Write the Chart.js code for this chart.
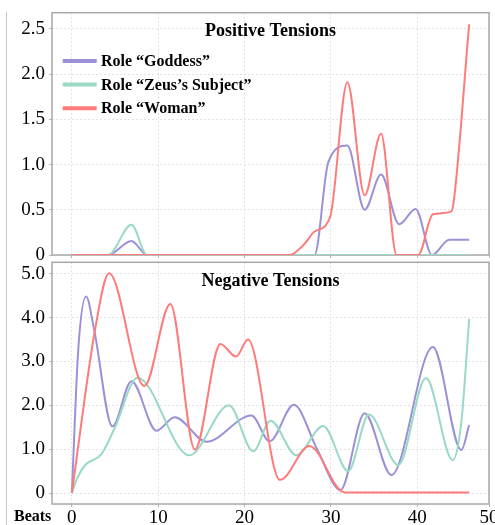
<!DOCTYPE html>
<html>
<head>
<meta charset="utf-8">
<script src="https://cdn.jsdelivr.net/npm/chart.js@4.4.1/dist/chart.umd.min.js"></script>
<style>
  html, body { margin: 0; padding: 0; background: #fff; }
  #wrap { position: relative; width: 495px; height: 525px; overflow: hidden; }
  #wrap canvas { position: absolute; left: 0; }
  #posChart { top: 0; }
  #negChart { top: 258px; }
  #frame { position: absolute; left: 6px; top: 12px; height: 513px; border-left: 1px solid #c8c8c8; }
</style>
</head>
<body>
<div id="wrap">
  <div id="frame"></div>
  <canvas id="posChart" width="495" height="262"></canvas>
  <canvas id="negChart" width="495" height="267"></canvas>
</div>
<script>
// beats / tension values
const beatTicks = [0, 10, 20, 30, 40, 50];
const posTicks = [0, 0.5, 1, 1.5, 2, 2.5];
const negTicks = [0, 1, 2, 3, 4, 5];

const roleLabels = ["Role “Goddess”", "Role “Zeus’s Subject”", "Role “Woman”"];
const roleColors = ["#9b91d9", "#9ad9c6", "#ff7b7b"];

// positive tensions
const posGoddessBeats = [0, 4.2, 6.9, 8.7, 28.1, 29.7, 31.9, 33.9, 35.8, 37.9, 39.8, 41.7, 43.7, 46];
const posGoddessVals  = [0, 0, 0.155, 0, 0, 1.03, 1.21, 0.50, 0.89, 0.34, 0.51, 0, 0.17, 0.17];
const posZeusBeats = [0, 4.2, 6.9, 8.7, 46];
const posZeusVals  = [0, 0, 0.335, 0, 0];
const posWomanBeats = [0, 25.2, 27.0, 28.1, 29.9, 31.9, 33.9, 35.8, 37.6, 40.1, 41.8, 43.9, 44.2, 46];
const posWomanVals  = [0, 0, 0.13, 0.26, 0.42, 1.91, 0.66, 1.34, 0, 0, 0.45, 0.48, 0.58, 2.55];

// negative tensions
const negGoddessBeats = [0, 0.75, 1.65, 2.6, 4.7, 6.9, 9.8, 11.9, 15.6, 20.8, 22.9, 25.7, 28.4, 31.1, 33.9, 37.0, 41.8, 45.1, 46];
const negGoddessVals  = [0, 3.3, 4.48, 3.7, 1.52, 2.55, 1.42, 1.73, 1.17, 1.77, 1.18, 2.01, 1.0, 0.07, 1.82, 0.41, 3.33, 0.98, 1.55];
const negZeusBeats = [0, 0.6, 1.6, 3.4, 5.0, 7.6, 13.6, 18.2, 21.0, 23.0, 26.0, 29.1, 32.0, 34.4, 37.8, 41.0, 44.1, 45.1, 46];
const negZeusVals  = [0, 0.33, 0.65, 0.88, 1.5, 2.63, 0.86, 2.0, 0.95, 1.65, 0.86, 1.53, 0.5, 1.79, 0.64, 2.62, 0.75, 1.62, 3.97];
const negWomanBeats = [0, 2.7, 4.3, 8.4, 11.4, 14.25, 17.2, 19.0, 20.4, 24.1, 27.5, 31.5, 33, 46];
const negWomanVals  = [0, 3.74, 5.01, 2.44, 4.31, 0.99, 3.4, 3.11, 3.5, 0.30, 1.07, 0.02, 0.01, 0.01];

const serif = '"Liberation Serif", "Times New Roman", serif';
Chart.defaults.font.family = serif;
Chart.defaults.color = "#000";

function points(xs, ys){
  return xs.map((x, i) => ({x: x, y: ys[i]}));
}

function series(sets){
  return sets.map((s, i) => ({
    label: roleLabels[i],
    data: points(s[0], s[1]),
    borderColor: roleColors[i],
    borderWidth: 2,
    pointRadius: 0,
    fill: false,
    cubicInterpolationMode: "monotone",
    order: 3 - i
  }));
}

// title, legend and frame drawn inside the plot box
const panelText = {
  id: "panelText",
  beforeDatasetsDraw(chart){
    const {ctx, chartArea: a} = chart;
    ctx.save();
    ctx.strokeStyle = "#a8a8a8";
    ctx.lineWidth = 1.5;
    ctx.strokeRect(a.left, a.top, a.right - a.left, a.bottom - a.top);
    ctx.restore();
  },
  afterDatasetsDraw(chart, args, opts){
    const {ctx, chartArea: a} = chart;
    ctx.save();
    ctx.fillStyle = "#000";
    ctx.textBaseline = "alphabetic";
    ctx.font = "bold 18px " + serif;
    ctx.textAlign = "center";
    ctx.fillText(opts.title, (a.left + a.right) / 2, a.top + 23.5);
    ctx.textAlign = "left";
    ctx.font = "bold 16px " + serif;
    if(opts.legend){
      chart.data.datasets.forEach((ds, i) => {
        const y = a.top + 53.3 + i * 23.6;
        ctx.strokeStyle = ds.borderColor;
        ctx.lineWidth = 4;
        ctx.beginPath();
        ctx.moveTo(a.left + 10.7, y - 5);
        ctx.lineTo(a.left + 44.7, y - 5);
        ctx.stroke();
        ctx.fillText(ds.label, a.left + 49, y);
      });
    }
    if(opts.xTitle){
      ctx.fillText(opts.xTitle, 14, a.bottom + 17);
    }
    ctx.restore();
  }
};

function makePanel(id, sets, yMin, yMax, yTicks, opts){
  const gridCfg = {color: "#e2e2e2", tickColor: "#b8b8b8", tickLength: 3, lineWidth: 1};
  const tickFont = {family: serif, size: 19, weight: "normal"};
  return new Chart(document.getElementById(id), {
    type: "line",
    data: {datasets: series(sets)},
    options: {
      responsive: false,
      animation: false,
      layout: {padding: {top: opts.padTop, right: 6, left: 0, bottom: 0}},
      plugins: {
        legend: {display: false},
        tooltip: {enabled: false},
        panelText: {title: opts.title, legend: opts.legend, xTitle: opts.xTitle}
      },
      scales: {
        x: {
          type: "linear",
          min: -2.3,
          max: 48.3,
          grid: gridCfg,
          border: {display: false, dash: [2, 2]},
          ticks: {
            display: opts.xLabels,
            padding: 0,
            color: "#000",
            font: tickFont,
            callback: (v, i) => String(beatTicks[i])
          },
          afterBuildTicks: (scale) => {
            scale.ticks = beatTicks.map(v => ({value: Math.min(v, scale.max)}));
          },
          afterFit: (scale) => {
            scale.height = opts.xHeight;
            scale.paddingLeft = 0;
            scale.paddingRight = 0;
          }
        },
        y: {
          min: yMin,
          max: yMax,
          grid: gridCfg,
          border: {display: false, dash: [2, 2]},
          ticks: {
            padding: 4,
            color: "#000",
            font: tickFont,
            callback: (v) => v === 0 ? "0" : v.toFixed(1)
          },
          afterBuildTicks: (scale) => {
            scale.ticks = yTicks.map(v => ({value: v}));
          },
          afterFit: (scale) => {
            scale.width = 52;
            scale.paddingTop = 0;
            scale.paddingBottom = 0;
          }
        }
      }
    },
    plugins: [panelText]
  });
}

makePanel("posChart",
  [[posGoddessBeats, posGoddessVals], [posZeusBeats, posZeusVals], [posWomanBeats, posWomanVals]],
  0, 2.68, posTicks,
  {title: "Positive Tensions", legend: true, xLabels: false, xHeight: 7, padTop: 12.7});

makePanel("negChart",
  [[negGoddessBeats, negGoddessVals], [negZeusBeats, negZeusVals], [negWomanBeats, negWomanVals]],
  -0.25, 5.26, negTicks,
  {title: "Negative Tensions", legend: false, xLabels: true, xHeight: 21, padTop: 4.3, xTitle: "Beats"});
</script>
</body>
</html>
